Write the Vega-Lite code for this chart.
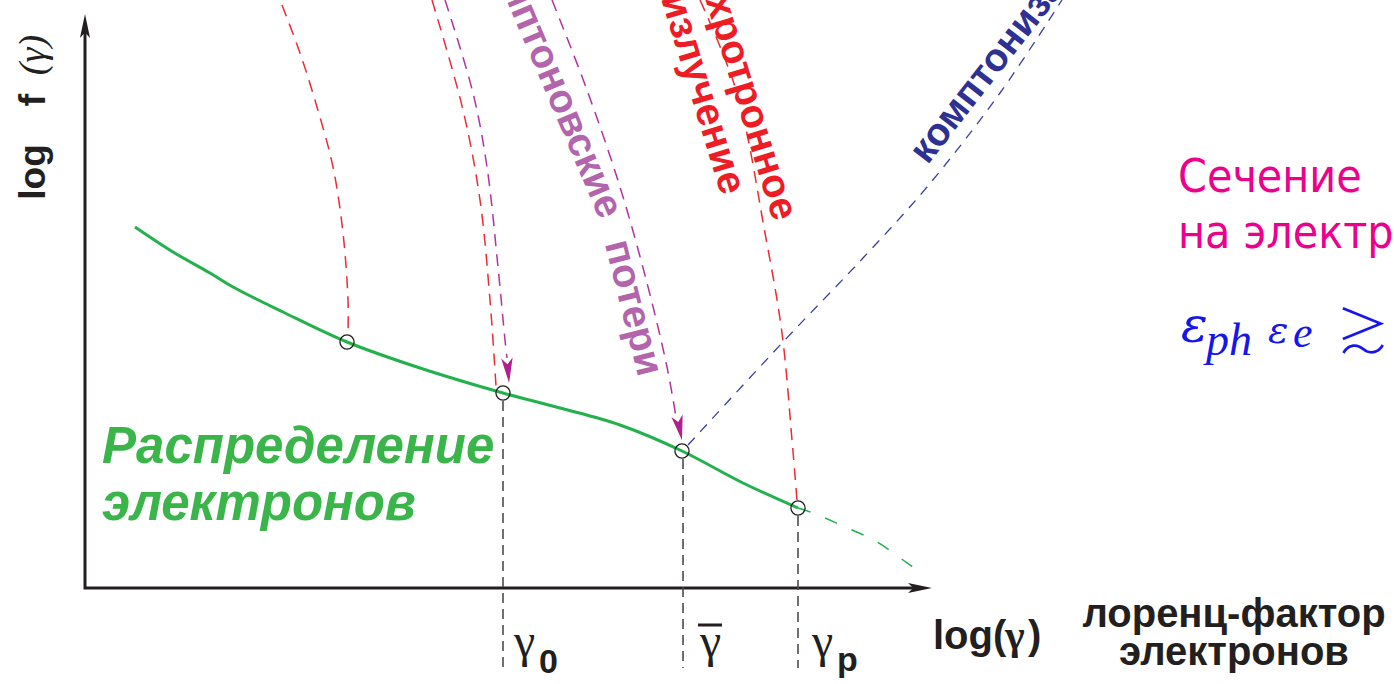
{
"$schema": "https://vega.github.io/schema/vega-lite/v6.json",
"width": 1394, "height": 684,
"autosize": {"type": "none"}, "padding": 0,
"background": "white",
"config": {"view": {"stroke": null}},
"datasets": {
"axes": [{"i":0,"X":0,"Y":5.65},{"i":1,"X":0,"Y":0},{"i":2,"X":8.3,"Y":0}],
"tipY": [{"X":0,"Y":5.62}],
"tipX": [{"X":8.35,"Y":0}],
"drops": [{"id":"g0","i":0,"X":4.18,"Y":1.87},{"id":"g0","i":1,"X":4.18,"Y":-0.8},
{"id":"gb","i":0,"X":5.98,"Y":1.29},{"id":"gb","i":1,"X":5.98,"Y":-0.8},
{"id":"gp","i":0,"X":7.13,"Y":0.72},{"id":"gp","i":1,"X":7.13,"Y":-0.8}],
"red": [{"id":"r1","i":0,"X":1.97,"Y":5.83},{"id":"r1","i":1,"X":2.15,"Y":5.35},{"id":"r1","i":2,"X":2.32,"Y":4.81},{"id":"r1","i":3,"X":2.48,"Y":4.21},{"id":"r1","i":4,"X":2.58,"Y":3.55},{"id":"r1","i":5,"X":2.63,"Y":2.88},{"id":"r1","i":6,"X":2.63,"Y":2.54},
{"id":"r2","i":0,"X":3.47,"Y":5.88},{"id":"r2","i":1,"X":3.78,"Y":4.78},{"id":"r2","i":2,"X":3.95,"Y":3.88},{"id":"r2","i":3,"X":4.05,"Y":2.88},{"id":"r2","i":4,"X":4.11,"Y":2.02},
{"id":"r3","i":0,"X":6.15,"Y":5.88},{"id":"r3","i":1,"X":6.52,"Y":4.95},{"id":"r3","i":2,"X":6.8,"Y":3.55},{"id":"r3","i":3,"X":6.97,"Y":2.55},{"id":"r3","i":4,"X":7.07,"Y":1.48},{"id":"r3","i":5,"X":7.12,"Y":0.88}],
"purple": [{"id":"p1","i":0,"X":3.6,"Y":5.88},{"id":"p1","i":1,"X":3.88,"Y":4.95},{"id":"p1","i":2,"X":4.02,"Y":4.21},{"id":"p1","i":3,"X":4.13,"Y":3.21},{"id":"p1","i":4,"X":4.2,"Y":2.48},{"id":"p1","i":5,"X":4.22,"Y":2.3},
{"id":"p2","i":0,"X":4.67,"Y":5.88},{"id":"p2","i":1,"X":5.02,"Y":4.98},{"id":"p2","i":2,"X":5.35,"Y":4.01},{"id":"p2","i":3,"X":5.62,"Y":3.05},{"id":"p2","i":4,"X":5.82,"Y":2.21},{"id":"p2","i":5,"X":5.91,"Y":1.71}],
"blue": [{"i":0,"X":6.03,"Y":1.43},{"i":1,"X":6.98,"Y":2.46},{"i":2,"X":7.78,"Y":3.3},{"i":3,"X":8.42,"Y":4.01},{"i":4,"X":9.15,"Y":4.95},{"i":5,"X":9.77,"Y":5.88}],
"green": [{"i":0,"X":0.5,"Y":3.61},{"i":1,"X":0.88,"Y":3.36},{"i":2,"X":1.25,"Y":3.15},{"i":3,"X":1.48,"Y":3.01},{"i":4,"X":1.98,"Y":2.76},{"i":5,"X":2.62,"Y":2.46},{"i":6,"X":3.35,"Y":2.2},{"i":7,"X":4.18,"Y":1.95},{"i":8,"X":4.75,"Y":1.8},{"i":9,"X":5.35,"Y":1.63},{"i":10,"X":5.97,"Y":1.37},{"i":11,"X":6.58,"Y":1.05},{"i":12,"X":7.13,"Y":0.8}],
"greenTail": [{"i":0,"X":7.13,"Y":0.8},{"i":1,"X":7.28,"Y":0.75},{"i":2,"X":7.58,"Y":0.62},{"i":3,"X":7.92,"Y":0.46},{"i":4,"X":8.18,"Y":0.28},{"i":5,"X":8.36,"Y":0.15}],
"circles": [{"X":2.62,"Y":2.46},{"X":4.18,"Y":1.95},{"X":5.97,"Y":1.37},{"X":7.13,"Y":0.8}],
"arrow1": [{"X":4.23,"Y":2.175}],
"arrow2": [{"X":5.945,"Y":1.6}],
"bar": [{"i":0,"X":6.13,"Y":-0.37},{"i":1,"X":6.37,"Y":-0.37}],
"ylabB": [{"X":-0.4,"Y":4.16,"t":"log"},{"X":-0.4,"Y":4.88,"t":"f"}],
"ylabR": [{"X":-0.4,"Y":5.33,"t":"(γ)"}],
"greenText": [{"X":0.17,"Y":1.25,"t":"Распределение"},{"X":0.17,"Y":0.68,"t":"электронов"}],
"gam": [{"X":4.29,"Y":-0.69,"t":"γ"},{"X":6.15,"Y":-0.69,"t":"γ"},{"X":7.27,"Y":-0.69,"t":"γ"}],
"subs": [{"X":4.54,"Y":-0.85,"t":"0"},{"X":7.52,"Y":-0.83,"t":"p"}],
"logg": [{"X":8.48,"Y":-0.61,"t":"log("}],
"loggG": [{"X":9.2,"Y":-0.61,"t":"γ"}],
"loggP": [{"X":9.43,"Y":-0.61,"t":")"}],
"lor": [{"X":11.49,"Y":-0.39,"t":"лоренц-фактор"},{"X":11.49,"Y":-0.77,"t":"электронов"}],
"sech": [{"X":10.93,"Y":3.96,"t":"Сечение"},{"X":10.93,"Y":3.4,"t":"на электронах"}],
"eps1": [{"X":10.96,"Y":2.46,"t":"ε"}],
"ph": [{"X":11.21,"Y":2.33,"t":"ph"}],
"eps2": [{"X":11.83,"Y":2.45,"t":"ε"}],
"esub": [{"X":12.08,"Y":2.41,"t":"e"}],
"gtrsim": [{"X":12.51,"Y":2.37,"t":"≳"}],
"sync1": [{"X":7.0,"Y":3.69,"t":"синхротронное"}],
"sync2": [{"X":6.48,"Y":3.95,"t":"излучение"}],
"comp1": [{"X":5.26,"Y":3.72,"t":"комптоновские"}],
"comp2": [{"X":5.65,"Y":2.13,"t":"потери"}],
"compz": [{"X":8.33,"Y":4.3,"t":"комптонизация"}]
},
"encoding": {
"x": {"field":"X","type":"quantitative","scale":{"domain":[-0.85,13.09],"nice":false,"zero":false},"axis":null},
"y": {"field":"Y","type":"quantitative","scale":{"domain":[-0.96,5.88],"nice":false,"zero":false},"axis":null}
},
"layer": [
{"data":{"name":"axes"},"mark":{"type":"line","color":"#231f20","strokeWidth":3,"strokeJoin":"miter"},"encoding":{"order":{"field":"i"}}},
{"data":{"name":"tipY"},"mark":{"type":"point","shape":"M0,1L-0.42,-1L0,-0.55L0.42,-1Z","size":576,"filled":true,"opacity":1,"color":"#231f20","angle":180}},
{"data":{"name":"tipX"},"mark":{"type":"point","shape":"M0,1L-0.42,-1L0,-0.55L0.42,-1Z","size":576,"filled":true,"opacity":1,"color":"#231f20","angle":-90}},
{"data":{"name":"drops"},"mark":{"type":"line","color":"#4d4d4d","strokeWidth":1.6,"strokeDash":[10,6]},"encoding":{"detail":{"field":"id"},"order":{"field":"i"}}},
{"data":{"name":"red"},"mark":{"type":"line","color":"#ee2a34","strokeWidth":1.5,"strokeDash":[12,8],"interpolate":"catmull-rom","clip":true},"encoding":{"detail":{"field":"id"},"order":{"field":"i"}}},
{"data":{"name":"purple"},"mark":{"type":"line","color":"#b4309e","strokeWidth":1.5,"strokeDash":[12,8],"interpolate":"catmull-rom","clip":true},"encoding":{"detail":{"field":"id"},"order":{"field":"i"}}},
{"data":{"name":"blue"},"mark":{"type":"line","color":"#3a3f9e","strokeWidth":1.3,"strokeDash":[10,8],"interpolate":"catmull-rom","clip":true},"encoding":{"order":{"field":"i"}}},
{"data":{"name":"green"},"mark":{"type":"line","color":"#22b14c","strokeWidth":3,"interpolate":"catmull-rom"},"encoding":{"order":{"field":"i"}}},
{"data":{"name":"greenTail"},"mark":{"type":"line","color":"#22b14c","strokeWidth":1.5,"strokeDash":[13,16],"interpolate":"catmull-rom"},"encoding":{"order":{"field":"i"}}},
{"data":{"name":"circles"},"mark":{"type":"point","shape":"circle","size":200,"filled":false,"stroke":"#231f20","strokeWidth":1.3,"opacity":1}},
{"data":{"name":"arrow1"},"mark":{"type":"point","shape":"M0,1L-0.46,-1L0,-0.5L0.46,-1Z","size":625,"filled":true,"opacity":1,"color":"#b0218e","angle":-5}},
{"data":{"name":"arrow2"},"mark":{"type":"point","shape":"M0,1L-0.46,-1L0,-0.5L0.46,-1Z","size":625,"filled":true,"opacity":1,"color":"#b0218e","angle":-11.5}},
{"data":{"name":"bar"},"mark":{"type":"line","color":"#231f20","strokeWidth":3},"encoding":{"order":{"field":"i"}}},
{"data":{"name":"ylabB"},"mark":{"type":"text","font":"Liberation Sans","fontWeight":"bold","fontSize":37,"angle":-90,"align":"center","baseline":"alphabetic","color":"#231f20"},"encoding":{"text":{"field":"t"}}},
{"data":{"name":"ylabR"},"mark":{"type":"text","font":"Liberation Serif","fontStyle":"italic","fontSize":38,"angle":-90,"align":"center","baseline":"alphabetic","color":"#231f20"},"encoding":{"text":{"field":"t"}}},
{"data":{"name":"greenText"},"mark":{"type":"text","font":"Liberation Sans","fontWeight":"bold","fontStyle":"italic","fontSize":51,"align":"left","baseline":"alphabetic","color":"#39b54a"},"encoding":{"text":{"field":"t"}}},
{"data":{"name":"gam"},"mark":{"type":"text","font":"Liberation Serif","fontSize":48,"align":"left","baseline":"alphabetic","color":"#231f20"},"encoding":{"text":{"field":"t"}}},
{"data":{"name":"subs"},"mark":{"type":"text","font":"Liberation Sans","fontWeight":"bold","fontSize":34,"align":"left","baseline":"alphabetic","color":"#231f20"},"encoding":{"text":{"field":"t"}}},
{"data":{"name":"logg"},"mark":{"type":"text","font":"Liberation Sans","fontWeight":"bold","fontSize":40,"align":"left","baseline":"alphabetic","color":"#231f20"},"encoding":{"text":{"field":"t"}}},
{"data":{"name":"loggG"},"mark":{"type":"text","font":"Liberation Serif","fontWeight":"bold","fontSize":42,"align":"left","baseline":"alphabetic","color":"#231f20"},"encoding":{"text":{"field":"t"}}},
{"data":{"name":"loggP"},"mark":{"type":"text","font":"Liberation Sans","fontWeight":"bold","fontSize":40,"align":"left","baseline":"alphabetic","color":"#231f20"},"encoding":{"text":{"field":"t"}}},
{"data":{"name":"lor"},"mark":{"type":"text","font":"Liberation Sans","fontWeight":"bold","fontSize":40,"align":"center","baseline":"alphabetic","color":"#231f20"},"encoding":{"text":{"field":"t"}}},
{"data":{"name":"sech"},"mark":{"type":"text","font":"DejaVu Sans Condensed, DejaVu Sans","fontSize":46,"align":"left","baseline":"alphabetic","color":"#ec008c","clip":true},"encoding":{"text":{"field":"t"}}},
{"data":{"name":"eps1"},"mark":{"type":"text","font":"DejaVu Serif","fontStyle":"italic","fontSize":50,"align":"left","baseline":"alphabetic","color":"#1515ee"},"encoding":{"text":{"field":"t"}}},
{"data":{"name":"ph"},"mark":{"type":"text","font":"Liberation Serif","fontStyle":"italic","fontSize":46,"align":"left","baseline":"alphabetic","color":"#1515ee"},"encoding":{"text":{"field":"t"}}},
{"data":{"name":"eps2"},"mark":{"type":"text","font":"DejaVu Serif","fontStyle":"italic","fontSize":38,"align":"left","baseline":"alphabetic","color":"#1515ee"},"encoding":{"text":{"field":"t"}}},
{"data":{"name":"esub"},"mark":{"type":"text","font":"Liberation Serif","fontStyle":"italic","fontSize":44,"align":"left","baseline":"alphabetic","color":"#1515ee"},"encoding":{"text":{"field":"t"}}},
{"data":{"name":"gtrsim"},"mark":{"type":"text","font":"Noto Sans CJK JP, DejaVu Serif","fontWeight":300,"fontSize":54,"align":"left","baseline":"alphabetic","color":"#1515ee"},"encoding":{"text":{"field":"t"}}},
{"data":{"name":"sync1"},"mark":{"type":"text","font":"Liberation Sans","fontWeight":"bold","fontSize":40,"angle":73,"align":"right","baseline":"middle","color":"#ee1c25","clip":true},"encoding":{"text":{"field":"t"}}},
{"data":{"name":"sync2"},"mark":{"type":"text","font":"Liberation Sans","fontWeight":"bold","fontSize":40,"angle":73,"align":"right","baseline":"middle","color":"#ee1c25","clip":true},"encoding":{"text":{"field":"t"}}},
{"data":{"name":"comp1"},"mark":{"type":"text","font":"Liberation Sans","fontWeight":"bold","fontSize":40,"angle":67,"align":"right","baseline":"middle","color":"#b265ac","clip":true},"encoding":{"text":{"field":"t"}}},
{"data":{"name":"comp2"},"mark":{"type":"text","font":"Liberation Sans","fontWeight":"bold","fontSize":40,"angle":76,"align":"right","baseline":"middle","color":"#b265ac","clip":true},"encoding":{"text":{"field":"t"}}},
{"data":{"name":"compz"},"mark":{"type":"text","font":"Liberation Sans","fontWeight":"bold","fontSize":39,"angle":-52,"align":"left","baseline":"middle","color":"#2e3192","clip":true},"encoding":{"text":{"field":"t"}}}
]
}
